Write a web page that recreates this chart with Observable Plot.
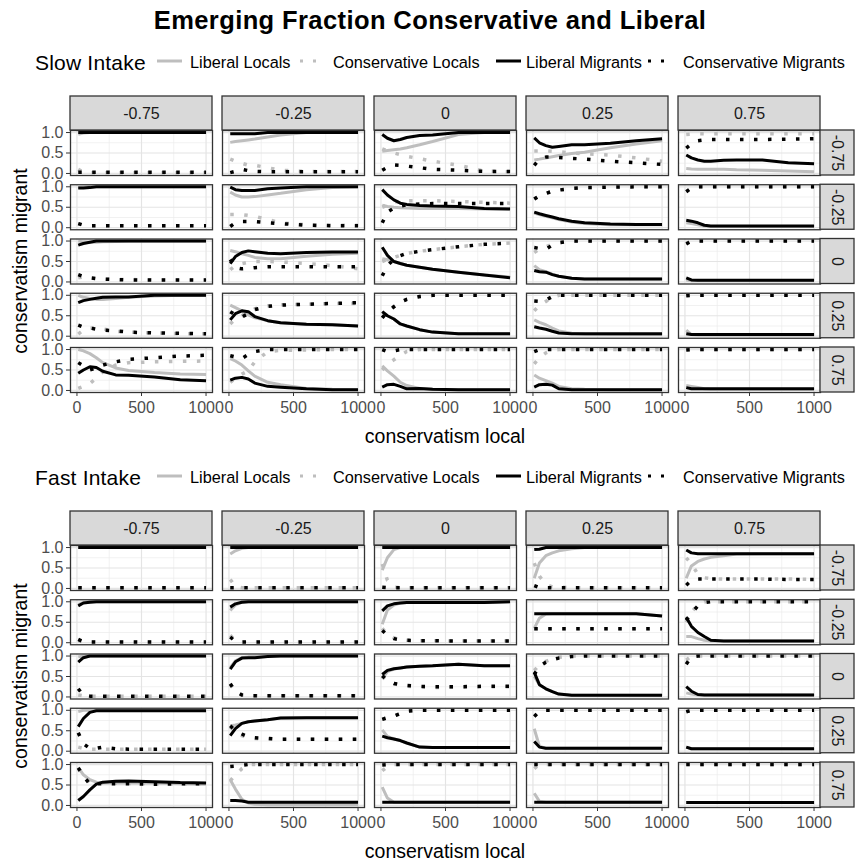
<!DOCTYPE html>
<html>
<head>
<meta charset="utf-8">
<script src="https://cdn.jsdelivr.net/npm/d3@7"></script>
<script src="https://cdn.jsdelivr.net/npm/@observablehq/plot@0.6"></script>
<style>
  html, body { margin: 0; padding: 0; background: #fff; }
  body { position: relative; width: 856px; height: 861px; overflow: hidden;
         font-family: "Liberation Sans", Arial, sans-serif; color: #000; }
  .abs { position: absolute; white-space: nowrap; }
  #title { left: 0; width: 860px; top: 5px; text-align: center; font-weight: bold; font-size: 25.5px; line-height: 30px; letter-spacing: 0.4px; }
  .blockTitle { font-size: 21px; line-height: 24px; letter-spacing: 0.2px; }
  .legText { font-size: 16.3px; line-height: 20px; }
  .axTitle { font-size: 19.5px; line-height: 24px; }
</style>
</head>
<body>
<div id="title" class="abs">Emerging Fraction Conservative and Liberal</div>
<script>
// ---------------- data ----------------
const steps = [10, 50, 100, 150, 200, 300, 400, 600, 800, 1000];
const conservatismLocal = ["-0.75", "-0.25", "0", "0.25", "0.75"];   // facet columns
const conservatismMigrant = ["-0.75", "-0.25", "0", "0.25", "0.75"]; // facet rows
const seriesNames = ["Liberal Locals", "Conservative Locals", "Liberal Migrants", "Conservative Migrants"];
const blockNames = ["Slow Intake", "Fast Intake"];
const xTicks = [0, 500, 1000];
const yTicks = [0, 0.5, 1];

// [migrant row][local column][step]
const slowLiberalLocals = [
  [[0.96,0.99,1,1,1,1,1,1,1,1],
   [0.76,0.78,0.8,0.82,0.84,0.89,0.94,1,1,1],
   [0.54,0.56,0.58,0.6,0.63,0.7,0.78,0.95,1,1],
   [0.33,0.35,0.38,0.41,0.44,0.49,0.52,0.63,0.72,0.8],
   [0.12,0.11,0.1,0.1,0.1,0.1,0.09,0.08,0.06,0.04]],
  [[0.98,0.99,1,1,1,1,1,1,1,1],
   [0.87,0.8,0.75,0.75,0.76,0.8,0.84,0.93,0.98,1],
   [0.55,0.52,0.5,0.49,0.48,0.47,0.47,0.47,0.46,0.46],
   [0.36,0.32,0.28,0.24,0.2,0.14,0.1,0.07,0.07,0.07],
   [0.12,0.1,0.07,0.04,0.03,0.03,0.03,0.03,0.03,0.03]],
  [[1,0.98,0.97,0.97,0.98,0.99,1,1,1,1],
   [0.77,0.74,0.69,0.65,0.6,0.57,0.57,0.63,0.68,0.7],
   [0.57,0.55,0.5,0.45,0.41,0.36,0.31,0.24,0.17,0.12],
   [0.4,0.3,0.25,0.19,0.14,0.09,0.07,0.07,0.07,0.07],
   [0.05,0.03,0.03,0.03,0.03,0.03,0.03,0.03,0.03,0.03]],
  [[1,0.95,0.92,0.9,0.9,0.92,0.95,0.98,1,1],
   [0.76,0.7,0.62,0.52,0.45,0.38,0.33,0.29,0.28,0.25],
   [0.6,0.5,0.42,0.3,0.25,0.16,0.1,0.06,0.06,0.06],
   [0.4,0.34,0.28,0.2,0.13,0.07,0.05,0.04,0.04,0.04],
   [0.15,0.04,0.03,0.03,0.03,0.03,0.03,0.03,0.03,0.03]],
  [[1,0.97,0.9,0.8,0.68,0.55,0.49,0.44,0.4,0.39],
   [0.78,0.72,0.62,0.48,0.35,0.2,0.14,0.05,0.03,0.02],
   [0.6,0.48,0.35,0.2,0.12,0.05,0.03,0.02,0.02,0.02],
   [0.38,0.3,0.24,0.18,0.1,0.04,0.03,0.02,0.02,0.02],
   [0.12,0.1,0.07,0.04,0.03,0.03,0.03,0.03,0.03,0.03]]
];
const slowConservativeLocals = [
  [[0.1,0.03,0.02,0.02,0.02,0.02,0.02,0.02,0.02,0.02],
   [0.35,0.3,0.25,0.2,0.2,0.14,0.08,0.05,0.05,0.05],
   [0.6,0.55,0.5,0.46,0.42,0.36,0.3,0.2,0.06,0.04],
   [0.55,0.55,0.55,0.54,0.53,0.5,0.48,0.45,0.38,0.3],
   [0.95,0.96,0.97,0.97,0.97,0.97,0.97,0.97,0.97,0.97]],
  [[0.1,0.06,0.05,0.05,0.05,0.05,0.05,0.05,0.05,0.05],
   [0.32,0.32,0.32,0.3,0.28,0.2,0.12,0.07,0.06,0.06],
   [0.5,0.55,0.62,0.65,0.66,0.66,0.66,0.64,0.62,0.6],
   [0.7,0.78,0.84,0.89,0.92,0.96,0.98,0.99,1,1],
   [0.88,0.97,1,1,1,1,1,1,1,1]],
  [[0.1,0.12,0.1,0.08,0.07,0.06,0.06,0.05,0.05,0.05],
   [0.3,0.4,0.45,0.48,0.5,0.5,0.49,0.45,0.4,0.32],
   [0.5,0.55,0.6,0.65,0.7,0.75,0.79,0.86,0.92,0.95],
   [0.72,0.8,0.86,0.92,0.96,1,1,1,1,1],
   [0.95,1,1,1,1,1,1,1,1,1]],
  [[0.05,0.15,0.2,0.2,0.18,0.12,0.1,0.08,0.06,0.06],
   [0.3,0.42,0.5,0.6,0.67,0.74,0.77,0.78,0.8,0.8],
   [0.45,0.6,0.72,0.83,0.9,0.97,1,1,1,1],
   [0.62,0.75,0.85,0.95,1,1,1,1,1,1],
   [1,1,1,1,1,1,1,1,1,1]],
  [[0.05,0.1,0.17,0.3,0.45,0.62,0.68,0.7,0.71,0.72],
   [0.2,0.3,0.4,0.48,0.7,0.95,0.98,0.99,1,1],
   [0.5,0.65,0.75,0.86,0.95,1,1,1,1,1],
   [0.65,0.8,0.92,0.98,1,1,1,1,1,1],
   [1,1,1,1,1,1,1,1,1,1]]
];
const slowLiberalMigrants = [
  [[1,1,1,1,1,1,1,1,1,1],
   [0.97,0.97,0.97,0.97,0.97,1,1,1,1,1],
   [0.95,0.86,0.8,0.83,0.88,0.93,0.94,1,1,1],
   [0.87,0.75,0.68,0.64,0.66,0.7,0.7,0.74,0.8,0.85],
   [0.45,0.38,0.33,0.3,0.3,0.32,0.33,0.33,0.26,0.24]],
  [[0.97,0.97,0.98,1,1,1,1,1,1,1],
   [0.99,0.93,0.91,0.91,0.91,0.95,0.97,1,1,1],
   [0.93,0.8,0.68,0.6,0.57,0.54,0.53,0.52,0.47,0.46],
   [0.38,0.34,0.3,0.26,0.22,0.16,0.12,0.09,0.08,0.08],
   [0.18,0.16,0.12,0.06,0.04,0.04,0.04,0.04,0.04,0.04]],
  [[0.9,0.94,0.97,1,1,1,1,1,1,1],
   [0.45,0.62,0.72,0.76,0.74,0.7,0.69,0.72,0.73,0.73],
   [0.85,0.65,0.5,0.45,0.41,0.36,0.31,0.24,0.17,0.1],
   [0.28,0.25,0.24,0.18,0.14,0.09,0.07,0.07,0.07,0.07],
   [0.1,0.05,0.04,0.04,0.04,0.04,0.04,0.04,0.04,0.04]],
  [[0.82,0.87,0.9,0.93,0.95,0.96,0.96,1,1,1],
   [0.4,0.55,0.62,0.6,0.48,0.38,0.33,0.29,0.28,0.25],
   [0.6,0.5,0.42,0.3,0.25,0.16,0.1,0.06,0.06,0.06],
   [0.23,0.2,0.17,0.12,0.08,0.06,0.06,0.06,0.06,0.06],
   [0.06,0.04,0.04,0.04,0.04,0.04,0.04,0.04,0.04,0.04]],
  [[0.42,0.5,0.58,0.56,0.47,0.38,0.37,0.33,0.26,0.24],
   [0.25,0.3,0.32,0.28,0.18,0.1,0.08,0.04,0.02,0.02],
   [0.08,0.14,0.15,0.1,0.04,0.05,0.03,0.02,0.02,0.02],
   [0.08,0.14,0.15,0.13,0.04,0.02,0.02,0.02,0.02,0.02],
   [0.07,0.04,0.04,0.04,0.04,0.04,0.04,0.04,0.04,0.04]]
];
const slowConservativeMigrants = [
  [[0.03,0.03,0.03,0.03,0.03,0.03,0.03,0.03,0.03,0.03],
   [0.02,0.05,0.1,0.07,0.05,0.04,0.04,0.04,0.04,0.04],
   [0.08,0.15,0.21,0.2,0.18,0.14,0.1,0.08,0.05,0.05],
   [0.2,0.35,0.4,0.4,0.39,0.37,0.35,0.3,0.26,0.22],
   [0.62,0.72,0.8,0.82,0.83,0.83,0.83,0.83,0.84,0.85]],
  [[0.1,0.06,0.05,0.05,0.05,0.05,0.05,0.05,0.05,0.05],
   [0.03,0.12,0.15,0.15,0.15,0.12,0.1,0.06,0.05,0.05],
   [0.12,0.38,0.48,0.53,0.56,0.58,0.59,0.59,0.59,0.59],
   [0.7,0.78,0.84,0.89,0.92,0.96,0.98,0.99,1,1],
   [0.88,0.97,1,1,1,1,1,1,1,1]],
  [[0.18,0.13,0.1,0.08,0.07,0.06,0.05,0.05,0.05,0.05],
   [0.55,0.35,0.32,0.33,0.35,0.37,0.37,0.37,0.37,0.37],
   [0.15,0.4,0.55,0.64,0.7,0.75,0.79,0.86,0.92,0.95],
   [0.84,0.82,0.8,0.9,0.96,1,1,1,1,1],
   [0.93,1,1,1,1,1,1,1,1,1]],
  [[0.27,0.22,0.2,0.17,0.15,0.13,0.1,0.08,0.07,0.06],
   [0.6,0.52,0.47,0.55,0.65,0.73,0.76,0.78,0.8,0.82],
   [0.45,0.6,0.72,0.83,0.9,0.97,1,1,1,1],
   [0.86,0.85,0.88,0.97,1,1,1,1,1,1],
   [0.99,1,1,1,1,1,1,1,1,1]],
  [[0.68,0.6,0.5,0.55,0.62,0.7,0.76,0.8,0.84,0.86],
   [0.85,0.82,0.78,0.88,0.95,1,1,1,1,1],
   [1,0.95,0.97,1,1,1,1,1,1,1],
   [0.95,1,1,1,1,1,1,1,1,1],
   [0.99,1,1,1,1,1,1,1,1,1]]
];

const fastLiberalLocals = [
  [[1,1,1,1,1,1,1,1,1,1],
   [0.84,0.92,0.98,1,1,1,1,1,1,1],
   [0.45,0.75,0.95,1,1,1,1,1,1,1],
   [0.25,0.62,0.8,0.87,0.92,0.97,1,1,1,1],
   [0.25,0.55,0.66,0.72,0.76,0.8,0.84,0.85,0.85,0.85]],
  [[0.93,0.98,1,1,1,1,1,1,1,1],
   [0.79,0.92,0.99,1,1,1,1,1,1,1],
   [0.45,0.8,0.92,0.97,0.98,0.98,0.98,0.98,0.98,1],
   [0.35,0.6,0.7,0.71,0.71,0.71,0.71,0.71,0.71,0.65],
   [0.15,0.15,0.1,0.06,0.04,0.04,0.04,0.04,0.04,0.04]],
  [[0.98,1,1,1,1,1,1,1,1,1],
   [0.72,0.88,0.96,0.98,0.99,1,1,1,1,1],
   [0.45,0.62,0.68,0.71,0.73,0.75,0.76,0.8,0.76,0.76],
   [0.5,0.3,0.2,0.13,0.07,0.04,0.04,0.04,0.04,0.04],
   [0.1,0.07,0.05,0.05,0.05,0.05,0.05,0.05,0.05,0.05]],
  [[0.97,1,1,1,1,1,1,1,1,1],
   [0.62,0.64,0.68,0.72,0.74,0.77,0.81,0.82,0.82,0.82],
   [0.52,0.36,0.3,0.26,0.2,0.1,0.09,0.09,0.09,0.09],
   [0.55,0.12,0.07,0.07,0.07,0.07,0.07,0.07,0.07,0.07],
   [0.1,0.06,0.06,0.06,0.06,0.06,0.06,0.06,0.06,0.06]],
  [[0.93,0.75,0.63,0.57,0.55,0.55,0.55,0.55,0.53,0.52],
   [0.63,0.4,0.15,0.06,0.03,0.02,0.02,0.02,0.02,0.02],
   [0.45,0.18,0.08,0.08,0.08,0.08,0.08,0.08,0.08,0.08],
   [0.3,0.1,0.08,0.08,0.08,0.08,0.08,0.08,0.08,0.08],
   [0.07,0.07,0.07,0.07,0.07,0.07,0.07,0.07,0.07,0.07]]
];
const fastConservativeLocals = [
  [[0.02,0.02,0.02,0.02,0.02,0.02,0.02,0.02,0.02,0.02],
   [0.22,0.05,0.02,0.02,0.02,0.02,0.02,0.02,0.02,0.02],
   [0.6,0.2,0.03,0.02,0.02,0.02,0.02,0.02,0.02,0.02],
   [0.62,0.3,0.1,0.04,0.03,0.02,0.02,0.02,0.02,0.02],
   [0.75,0.6,0.35,0.26,0.24,0.23,0.23,0.23,0.23,0.22]],
  [[0.05,0.02,0.02,0.02,0.02,0.02,0.02,0.02,0.02,0.02],
   [0.18,0.05,0.02,0.02,0.02,0.02,0.02,0.02,0.02,0.02],
   [0.35,0.2,0.12,0.08,0.06,0.05,0.05,0.04,0.04,0.04],
   [0.34,0.34,0.34,0.34,0.34,0.34,0.34,0.34,0.34,0.34],
   [0.5,0.75,0.92,1,1,1,1,1,1,1]],
  [[0.05,0.03,0.02,0.02,0.02,0.02,0.02,0.02,0.02,0.02],
   [0.3,0.14,0.05,0.03,0.03,0.03,0.03,0.03,0.03,0.03],
   [0.5,0.38,0.32,0.29,0.26,0.24,0.23,0.24,0.25,0.25],
   [0.65,0.78,0.87,0.93,0.97,1,1,1,1,1],
   [0.9,1,1,1,1,1,1,1,1,1]],
  [[0.1,0.07,0.05,0.05,0.05,0.05,0.05,0.05,0.05,0.05],
   [0.6,0.47,0.38,0.33,0.31,0.3,0.29,0.29,0.29,0.29],
   [0.78,0.82,0.86,0.92,0.98,1,1,1,1,1],
   [0.85,0.97,1,1,1,1,1,1,1,1],
   [1,1,1,1,1,1,1,1,1,1]],
  [[0.9,0.72,0.55,0.55,0.54,0.54,0.54,0.53,0.53,0.53],
   [0.6,0.75,0.9,1,1,1,1,1,1,1],
   [0.85,0.95,1,1,1,1,1,1,1,1],
   [0.9,1,1,1,1,1,1,1,1,1],
   [1,1,1,1,1,1,1,1,1,1]]
];
const fastLiberalMigrants = [
  [[1,1,1,1,1,1,1,1,1,1],
   [1,1,1,1,1,1,1,1,1,1],
   [1,1,1,1,1,1,1,1,1,1],
   [0.95,0.96,1,1,1,1,1,1,1,1],
   [0.94,0.87,0.85,0.85,0.85,0.85,0.85,0.85,0.85,0.85]],
  [[0.9,0.97,0.99,1,1,1,1,1,1,1],
   [0.87,0.95,0.99,1,1,1,1,1,1,1],
   [0.78,0.9,0.95,0.97,0.98,0.98,0.98,0.98,0.98,1],
   [0.71,0.71,0.71,0.71,0.71,0.71,0.71,0.71,0.71,0.65],
   [0.62,0.4,0.25,0.15,0.06,0.04,0.04,0.04,0.04,0.04]],
  [[0.85,0.96,1,1,1,1,1,1,1,1],
   [0.68,0.86,0.95,0.96,0.96,0.99,1,1,1,1],
   [0.55,0.65,0.69,0.71,0.73,0.75,0.76,0.8,0.76,0.76],
   [0.6,0.3,0.2,0.13,0.07,0.04,0.04,0.04,0.04,0.04],
   [0.25,0.14,0.06,0.05,0.05,0.05,0.05,0.05,0.05,0.05]],
  [[0.6,0.8,0.95,0.99,0.99,0.99,0.99,0.99,0.99,0.99],
   [0.38,0.55,0.68,0.72,0.74,0.77,0.81,0.82,0.82,0.82],
   [0.37,0.33,0.3,0.26,0.2,0.1,0.09,0.09,0.09,0.09],
   [0.24,0.1,0.07,0.07,0.07,0.07,0.07,0.07,0.07,0.07],
   [0.1,0.06,0.06,0.06,0.06,0.06,0.06,0.06,0.06,0.06]],
  [[0.12,0.22,0.38,0.52,0.57,0.59,0.6,0.58,0.56,0.55],
   [0.12,0.12,0.11,0.08,0.08,0.08,0.08,0.08,0.08,0.08],
   [0.08,0.08,0.08,0.08,0.08,0.08,0.08,0.08,0.08,0.08],
   [0.08,0.08,0.08,0.08,0.08,0.08,0.08,0.08,0.08,0.08],
   [0.07,0.07,0.07,0.07,0.07,0.07,0.07,0.07,0.07,0.07]]
];
const fastConservativeMigrants = [
  [[0.02,0.02,0.02,0.02,0.02,0.02,0.02,0.02,0.02,0.02],
   [0.02,0.02,0.02,0.02,0.02,0.02,0.02,0.02,0.02,0.02],
   [0.03,0.02,0.02,0.02,0.02,0.02,0.02,0.02,0.02,0.02],
   [0.07,0.02,0.02,0.02,0.02,0.02,0.02,0.02,0.02,0.02],
   [0.08,0.2,0.23,0.23,0.23,0.23,0.23,0.23,0.22,0.22]],
  [[0.08,0.02,0.02,0.02,0.02,0.02,0.02,0.02,0.02,0.02],
   [0.14,0.03,0.02,0.02,0.02,0.02,0.02,0.02,0.02,0.02],
   [0.3,0.18,0.1,0.07,0.06,0.05,0.05,0.04,0.04,0.04],
   [0.34,0.34,0.34,0.34,0.34,0.34,0.34,0.34,0.34,0.34],
   [0.55,0.72,0.9,0.98,1,1,1,1,1,1]],
  [[0.2,0.04,0.02,0.02,0.02,0.02,0.02,0.02,0.02,0.02],
   [0.32,0.14,0.05,0.03,0.03,0.03,0.03,0.03,0.03,0.03],
   [0.52,0.4,0.33,0.3,0.28,0.26,0.25,0.25,0.26,0.26],
   [0.55,0.75,0.85,0.91,0.95,0.99,1,1,1,1],
   [0.8,0.98,1,1,1,1,1,1,1,1]],
  [[0.45,0.18,0.07,0.07,0.1,0.06,0.05,0.05,0.05,0.05],
   [0.62,0.5,0.42,0.35,0.33,0.31,0.29,0.29,0.29,0.29],
   [0.78,0.82,0.86,0.92,0.98,1,1,1,1,1],
   [0.85,0.97,1,1,1,1,1,1,1,1],
   [0.96,1,1,1,1,1,1,1,1,1]],
  [[0.92,0.72,0.52,0.53,0.53,0.53,0.53,0.52,0.53,0.53],
   [0.95,0.96,0.98,1,1,1,1,1,1,1],
   [0.99,1,1,1,1,1,1,1,1,1],
   [1,1,1,1,1,1,1,1,1,1],
   [1,1,1,1,1,1,1,1,1,1]]
];

// ---------------- styling / layout ----------------
const seriesStyle = {
  "Liberal Locals":        {stroke: "#bebebe", width: 3,   dash: null},
  "Conservative Locals":   {stroke: "#bebebe", width: 3.5, dash: "3.5,10.5"},
  "Liberal Migrants":      {stroke: "#000000", width: 3,   dash: null},
  "Conservative Migrants": {stroke: "#000000", width: 3.5, dash: "3.5,10.5"}
};
const layout = {
  blockTop: [80, 495],     // svg top for each block
  svgHeight: 370,
  marginTop: 50, marginBottom: 58, marginLeft: 70, marginRight: 36,
  panelW: 142, panelH: 45, colGap: 10, rowGap: 9.25, strip: 34
};
const FONT = '"Liberation Sans", Arial, Helvetica, sans-serif';

function tidy(arrays) {
  const out = [];
  arrays.forEach((arr, s) => {
    arr.forEach((row, r) => row.forEach((vals, c) => vals.forEach((v, i) => {
      out.push({series: seriesNames[s], migrant: conservatismMigrant[r], local: conservatismLocal[c], step: steps[i], value: v});
    })));
  });
  return out;
}

function facetChart(arrays) {
  const data = tidy(arrays);
  const L = layout;
  const lastCol = conservatismLocal[conservatismLocal.length - 1];
  const firstRow = conservatismMigrant[0];
  const lineMarks = seriesNames.map(name => {
    const st = seriesStyle[name];
    return Plot.line(data.filter(d => d.series === name), {
      x: "step", y: "value", fx: "local", fy: "migrant",
      stroke: st.stroke, strokeWidth: st.width,
      strokeDasharray: st.dash || undefined,
      strokeLinecap: "butt", strokeLinejoin: "miter"
    });
  });
  return Plot.plot({
    width: 856, height: L.svgHeight,
    marginTop: L.marginTop, marginBottom: L.marginBottom,
    marginLeft: L.marginLeft, marginRight: L.marginRight,
    style: {fontFamily: FONT, fontSize: "16px", background: "transparent", overflow: "visible"},
    x: {domain: [-50, 1050]},
    y: {domain: [-0.05, 1.05]},
    fx: {domain: conservatismLocal, paddingInner: L.colGap / (L.panelW + L.colGap), paddingOuter: 0, round: false, axis: null, label: null},
    fy: {domain: conservatismMigrant, paddingInner: L.rowGap / (L.panelH + L.rowGap), paddingOuter: 0, round: false, axis: null, label: null},
    marks: [
      Plot.ruleX([250, 750], {stroke: "#ebebeb", strokeWidth: 0.7}),
      Plot.ruleY([0.25, 0.75], {stroke: "#ebebeb", strokeWidth: 0.7}),
      Plot.ruleX(xTicks, {stroke: "#e4e4e4", strokeWidth: 1.2}),
      Plot.ruleY(yTicks, {stroke: "#e4e4e4", strokeWidth: 1.2}),
      ...lineMarks,
      Plot.frame({stroke: "#333333", strokeWidth: 1.3}),
      // top strips
      Plot.rect(conservatismLocal, {fx: d => d, fy: () => firstRow, dy: -L.strip, insetBottom: L.panelH - L.strip,
        fill: "#d9d9d9", stroke: "#333333", strokeWidth: 1.3}),
      Plot.text(conservatismLocal, {fx: d => d, fy: () => firstRow, text: d => d, frameAnchor: "top", dy: -L.strip / 2,
        lineAnchor: "middle", textAnchor: "middle", fontSize: 16, fill: "#1a1a1a"}),
      // right strips
      Plot.rect(conservatismMigrant, {fx: () => lastCol, fy: d => d, dx: L.panelW, insetRight: L.panelW - L.strip,
        fill: "#d9d9d9", stroke: "#333333", strokeWidth: 1.3}),
      Plot.text(conservatismMigrant, {fx: () => lastCol, fy: d => d, text: d => d, frameAnchor: "right", dx: L.strip / 2,
        lineAnchor: "middle", textAnchor: "middle", rotate: 90, fontSize: 16, fill: "#1a1a1a"}),
      Plot.axisX({ticks: xTicks, tickFormat: d => String(d), tickSize: 4, tickPadding: 5, fontSize: 16,
        fill: "#4d4d4d", stroke: "#333333", label: null}),
      Plot.axisY({ticks: yTicks, tickFormat: d => d.toFixed(1), tickSize: 4, tickPadding: 3, fontSize: 16,
        fill: "#4d4d4d", stroke: "#333333", label: null})
    ]
  });
}

// ---------------- legend ----------------
const legendLayout = {
  titleLeft: 35, keyY: 61,
  items: [
    {keyX: 157, keyW: 25, textX: 190},
    {keyX: 300, keyW: 18, textX: 333},
    {keyX: 496, keyW: 25, textX: 526},
    {keyX: 648, keyW: 18, textX: 683}
  ]
};

function addDiv(cls, text, css) {
  const d = document.createElement("div");
  d.className = "abs " + cls;
  d.textContent = text;
  Object.assign(d.style, css);
  document.body.appendChild(d);
  return d;
}

function addLegend(offset, title) {
  const y = legendLayout.keyY + offset;
  addDiv("blockTitle", title, {left: legendLayout.titleLeft + "px", top: (y - 10) + "px"});
  seriesNames.forEach((name, i) => {
    const it = legendLayout.items[i];
    const st = seriesStyle[name];
    const svg = d3.create("svg").attr("width", it.keyW).attr("height", 10)
      .style("position", "absolute").style("left", it.keyX + "px").style("top", (y - 5) + "px");
    svg.append("line").attr("x1", 0).attr("x2", it.keyW).attr("y1", 5).attr("y2", 5)
      .attr("stroke", st.stroke).attr("stroke-width", 3)
      .attr("stroke-dasharray", st.dash ? "3,10" : null);
    document.body.appendChild(svg.node());
    addDiv("legText", name, {left: it.textX + "px", top: (y - 9) + "px"});
  });
}

// ---------------- render ----------------
const blocks = [
  [slowLiberalLocals, slowConservativeLocals, slowLiberalMigrants, slowConservativeMigrants],
  [fastLiberalLocals, fastConservativeLocals, fastLiberalMigrants, fastConservativeMigrants]
];
blocks.forEach((arrays, b) => {
  const top = layout.blockTop[b];
  const offset = top - layout.blockTop[0];
  addLegend(offset, blockNames[b]);
  const chart = facetChart(arrays);
  chart.style.position = "absolute";
  chart.style.left = "0px";
  chart.style.top = top + "px";
  document.body.appendChild(chart);
  const panelsTop = top + layout.marginTop;
  const panelsBottom = top + layout.svgHeight - layout.marginBottom;
  const xMid = layout.marginLeft + (856 - layout.marginLeft - layout.marginRight) / 2;
  addDiv("axTitle", "conservatism local", {top: (panelsBottom + 32) + "px", left: "0px", width: (2 * xMid) + "px", textAlign: "center"});
  addDiv("axTitle", "conservatism migrant", {
    left: (20 - 150) + "px", top: ((panelsTop + panelsBottom) / 2 - 12) + "px", width: "300px", textAlign: "center",
    transform: "rotate(-90deg)"
  });
});
</script>
</body>
</html>
